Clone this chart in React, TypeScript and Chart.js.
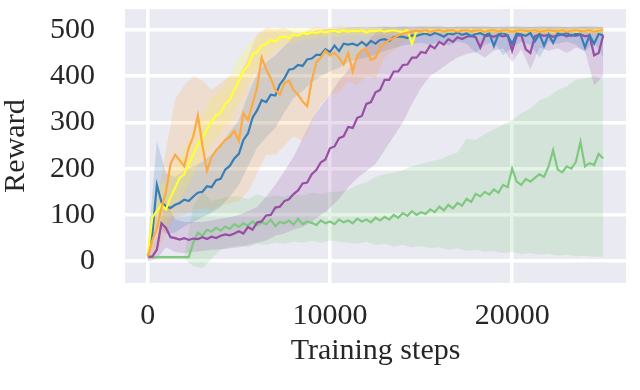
import React, { useEffect, useRef } from "react";
import { Chart, registerables } from "chart.js";

Chart.register(...registerables);

// x positions (training steps) of the mean curves and of the shaded bands
const STEPS = Array.from({ length: 101 }, (_, i) => i * 250);
const BAND_STEPS = Array.from({ length: 51 }, (_, i) => i * 500);

const X_TICKS = [0, 10000, 20000];
const Y_TICKS = [0, 100, 200, 300, 400, 500];

// ---- mean curves (101 points, every 250 steps) ----
const YELLOW = [
  15, 95, 108, 122, 112, 138, 158, 180, 188, 210,
  230, 252, 266, 285, 302, 315, 320, 340, 348, 370,
  390, 412, 422, 446, 452, 466, 470, 478, 475, 484,
  486, 482, 490, 487, 493, 491, 495, 493, 497, 494,
  497, 498, 495, 499, 496, 498, 497, 499, 494, 498,
  497, 499, 496, 498, 499, 497, 495, 499, 470, 497,
  498, 496, 499, 498, 497, 499, 496, 498, 499, 497,
  498, 499, 496, 498, 499, 497, 498, 499, 496, 498,
  499, 497, 498, 496, 499, 498, 497, 499, 498, 496,
  499, 498, 497, 499, 496, 498, 499, 497, 498, 499,
  498,
];
const BLUE = [
  12, 60, 165, 128, 118, 115, 122, 126, 133, 130,
  140, 148, 150, 162, 160, 175, 178, 198, 206, 222,
  232, 262, 276, 310, 326, 348, 344, 360, 358, 382,
  395, 414, 416, 424, 422, 436, 438, 446, 446, 458,
  452, 466, 454, 470, 468, 470, 466, 474, 466, 476,
  470, 478, 480, 476, 484, 486, 485, 482, 488, 487,
  490, 492, 488, 493, 490, 485, 492, 490, 494, 489,
  492, 486, 491, 493, 488, 492, 465, 490, 493, 488,
  470, 492, 490, 487, 493, 475, 491, 466, 490, 472,
  492, 489, 493, 487, 491, 490, 462, 488, 470, 491,
  488,
];
const ORANGE = [
  10, 45, 70, 115, 150, 210, 230, 218, 205, 245,
  270, 315, 250, 195, 225, 240, 250, 262, 268, 282,
  260, 320, 305, 340, 375, 440, 415, 395, 370, 360,
  385, 390, 370, 360, 345, 335, 390, 430, 440, 455,
  445, 450, 440, 425, 450, 410, 445, 455, 458, 435,
  440, 462, 470, 478, 482, 488, 492, 494, 496, 498,
  497, 499, 496, 498, 499, 497, 498, 499, 496, 498,
  499, 497, 498, 499, 496, 498, 499, 497, 498, 499,
  496, 498, 499, 497, 498, 499, 496, 498, 499, 497,
  498, 499, 496, 498, 499, 497, 498, 499, 496, 498,
  499,
];
const PURPLE = [
  10, 10, 25, 82, 72, 52, 50, 47, 50, 46,
  49, 48, 52, 48, 53, 50, 55, 58, 56, 60,
  65, 60, 74, 68, 84, 86, 99, 100, 116, 118,
  130, 134, 145, 153, 168, 170, 188, 197, 214, 220,
  244, 248, 266, 270, 290, 288, 310, 314, 340, 344,
  365, 370, 392, 392, 410, 410, 424, 425, 440, 440,
  452, 450, 466, 460, 474, 468, 480, 474, 484, 480,
  485, 487, 484, 462, 486, 488, 485, 489, 486, 488,
  455, 487, 489, 458, 450, 486, 490, 487, 489, 485,
  488, 490, 486, 489, 487, 490, 486, 488, 445, 450,
  488,
];
const GREEN = [
  9, 9, 9, 9, 9, 9, 9, 9, 9, 9,
  40, 62, 55, 68, 64, 72, 66, 75, 70, 80,
  74, 82, 77, 86, 78, 84, 80, 90, 76, 85,
  82, 88, 79, 92, 80, 86, 83, 78, 88, 82,
  86, 80, 90, 84, 88, 82, 92, 86, 90, 84,
  94, 88, 96, 90, 100, 94, 104, 98, 108, 100,
  106, 102, 112, 106, 118, 110, 122, 114, 126, 120,
  135, 128, 146, 140, 150, 144, 155, 148, 165, 160,
  200, 172, 165, 178, 172, 180, 188, 182, 205, 240,
  198, 192, 205, 200, 215, 258, 205, 212, 208, 232,
  222,
];

// ---- shaded bands (51 points, every 500 steps) ----
const YELLOW_LO = [
  5, 65, 78, 118, 148, 185, 222, 252, 278, 302, 342, 382, 416, 440, 456, 466, 472,
  478, 480, 484, 486, 485, 488, 487, 489, 488, 490, 489, 491, 480, 490, 491, 489,
  492, 490, 491, 492, 490, 491, 492, 490, 491, 492, 491, 490, 492, 491, 490, 492,
  491, 490,
];
const YELLOW_HI = [
  30, 165, 170, 210, 240, 282, 318, 352, 368, 400, 440, 468, 488, 500, 503, 503, 504,
  503, 504, 503, 504, 503, 505, 504, 503, 504, 503, 504, 503, 504, 505, 503, 504,
  503, 504, 503, 504, 503, 504, 503, 504, 503, 504, 505, 503, 504, 503, 504, 503,
  504, 503,
];
const BLUE_LO = [
  0, 75, 60, 62, 75, 85, 95, 105, 118, 140, 165, 205, 245, 268, 288, 322, 352, 368,
  386, 400, 410, 418, 430, 436, 440, 446, 455, 460, 466, 470, 472, 468, 474, 466,
  475, 470, 450, 468, 474, 445, 462, 475, 468, 440, 474, 470, 475, 468, 452, 474,
  440,
];
const BLUE_HI = [
  30, 260, 190, 182, 195, 205, 215, 230, 250, 280, 305, 360, 405, 430, 445, 465, 485,
  492, 496, 500, 502, 503, 505, 506, 505, 506, 507, 506, 508, 507, 508, 507, 508,
  506, 507, 508, 507, 508, 506, 507, 508, 507, 506, 508, 507, 508, 506, 507, 508,
  507, 506,
];
const ORANGE_LO = [
  0, 20, 60, 95, 100, 110, 115, 110, 120, 125, 130, 150, 190, 230, 230, 250, 270,
  260, 300, 340, 360, 365, 390, 380, 400, 395, 440, 455, 470, 482, 486, 488, 487,
  489, 488, 490, 489, 488, 490, 489, 490, 488, 490, 489, 490, 488, 489, 490, 488,
  489, 490,
];
const ORANGE_HI = [
  20, 130, 240, 350, 380, 400, 390, 370, 385, 400, 400, 440, 490, 505, 500, 505, 495,
  490, 505, 505, 505, 508, 506, 505, 507, 506, 507, 505, 506, 505, 506, 507, 505,
  506, 505, 506, 505, 506, 505, 506, 505, 506, 505, 506, 505, 506, 505, 506, 505,
  506, 505,
];
const PURPLE_LO = [
  0, 5, 30, 20, 18, 20, 22, 25, 26, 28, 30, 35, 40, 45, 55, 60, 68, 74, 85, 100,
  115, 135, 160, 180, 195, 210, 240, 270, 300, 340, 375, 400, 413, 428, 440, 448,
  452, 440, 455, 460, 430, 458, 415, 462, 455, 460, 450, 462, 455, 380, 400,
];
const PURPLE_HI = [
  20, 55, 130, 90, 85, 85, 85, 88, 92, 95, 100, 108, 117, 140, 165, 195, 225, 265,
  305, 335, 360, 390, 413, 440, 470, 495, 505, 505, 506, 505, 506, 505, 506, 505,
  506, 505, 506, 505, 506, 505, 506, 505, 506, 505, 506, 505, 506, 505, 506, 505,
  506,
];
const GREEN_LO = [
  5, 5, 5, 5, 5, -10, -15, 5, 25, 30, 35, 30, 38, 35, 40, 38, 42, 40, 44, 40, 45,
  42, 40, 38, 42, 35, 38, 32, 35, 30, 33, 28, 30, 25, 28, 22, 25, 20, 22, 18, 20,
  15, 18, 14, 16, 12, 14, 10, 12, 9, 10,
];
const GREEN_HI = [
  12, 12, 12, 12, 12, 120, 150, 130, 135, 140, 140, 135, 145, 138, 142, 140, 145,
  142, 148, 145, 150, 150, 155, 165, 170, 182, 188, 192, 197, 205, 210, 215, 220,
  228, 235, 265, 262, 275, 285, 295, 305, 320, 330, 348, 355, 370, 378, 392, 395,
  400, 392,
];

// drawn bottom -> top
const SERIES = [
  { color: [127, 201, 127], mean: GREEN, lo: GREEN_LO, hi: GREEN_HI },
  { color: [152, 78, 163], mean: PURPLE, lo: PURPLE_LO, hi: PURPLE_HI },
  { color: [55, 126, 184], mean: BLUE, lo: BLUE_LO, hi: BLUE_HI },
  { color: [255, 255, 51], mean: YELLOW, lo: YELLOW_LO, hi: YELLOW_HI },
  { color: [253, 170, 66], mean: ORANGE, lo: ORANGE_LO, hi: ORANGE_HI },
];

const pts = (xs: number[], ys: number[]) => ys.map((y, i) => ({ x: xs[i], y }));
const rgba = (c: number[], a: number) => `rgba(${c[0]},${c[1]},${c[2]},${a})`;

const FONT = { family: "'Liberation Serif', 'Times New Roman', serif", size: 30 };
const TEXT = "#262626";

const bgPlugin = {
  id: "bg",
  beforeDraw(chart: any) {
    const { ctx, chartArea } = chart;
    ctx.save();
    ctx.fillStyle = "#EAEAF2";
    ctx.fillRect(chartArea.left, chartArea.top, chartArea.right - chartArea.left, chartArea.bottom - chartArea.top);
    ctx.restore();
  },
};

const zeroPad = (s: any) => {
  s.paddingTop = 0;
  s.paddingBottom = 0;
  s.paddingLeft = 0;
  s.paddingRight = 0;
};

export default function App() {
  const ref = useRef<HTMLCanvasElement>(null);
  useEffect(() => {
    if (!ref.current) return;
    const datasets: any[] = [];
    const n = SERIES.length;
    SERIES.forEach((s, k) => {
      datasets.push({
        data: pts(BAND_STEPS, s.lo),
        borderWidth: 0,
        borderColor: "rgba(0,0,0,0)",
        pointRadius: 0,
        fill: false,
        order: 100 + (n - k) * 2,
      });
      datasets.push({
        data: pts(BAND_STEPS, s.hi),
        borderWidth: 0,
        borderColor: "rgba(0,0,0,0)",
        backgroundColor: rgba(s.color, 0.2),
        pointRadius: 0,
        fill: "-1",
        order: 100 + (n - k) * 2 - 1,
      });
    });
    SERIES.forEach((s, k) => {
      datasets.push({
        data: pts(STEPS, s.mean),
        borderColor: rgba(s.color, 1),
        borderWidth: 2.2,
        pointRadius: 0,
        fill: false,
        tension: 0,
        order: n - k,
      });
    });
    const chart = new Chart(ref.current, {
      type: "line",
      data: { datasets },
      plugins: [bgPlugin],
      options: {
        responsive: false,
        animation: false,
        devicePixelRatio: 1,
        layout: { padding: { top: 9, right: 14, left: 0, bottom: 0 } },
        plugins: { legend: { display: false }, tooltip: { enabled: false } },
        scales: {
          x: {
            type: "linear",
            min: -1250,
            max: 26250,
            afterBuildTicks: (s: any) => {
              s.ticks = X_TICKS.map((v) => ({ value: v }));
            },
            afterFit: (s: any) => {
              s.height = 107;
              zeroPad(s);
            },
            grid: { color: "#ffffff", lineWidth: 3.5, drawTicks: false },
            border: { display: false },
            ticks: {
              font: FONT,
              color: TEXT,
              padding: 15,
              maxRotation: 0,
              autoSkip: false,
              callback: (v: any) => String(v),
            },
            title: {
              display: true,
              text: "Training steps",
              font: FONT,
              color: TEXT,
              padding: { top: 0, bottom: 21 },
            },
          },
          y: {
            min: -47,
            max: 545,
            afterBuildTicks: (s: any) => {
              s.ticks = Y_TICKS.map((v) => ({ value: v }));
            },
            afterFit: (s: any) => {
              s.width = 125;
              zeroPad(s);
            },
            grid: { color: "#ffffff", lineWidth: 3.5, drawTicks: false },
            border: { display: false },
            ticks: {
              font: FONT,
              color: TEXT,
              padding: 30,
              autoSkip: false,
              callback: (v: any) => String(v),
            },
            title: {
              display: true,
              text: "Reward",
              font: { ...FONT, lineHeight: 1 },
              color: TEXT,
              padding: { top: 1, bottom: 0 },
            },
          },
        },
      },
    } as any);
    return () => chart.destroy();
  }, []);
  return (
    <div style={{ position: "absolute", left: 0, top: 0, width: 640, height: 390, background: "#fff" }}>
      <canvas ref={ref} width={640} height={390} style={{ width: 640, height: 390 }} />
    </div>
  );
}
